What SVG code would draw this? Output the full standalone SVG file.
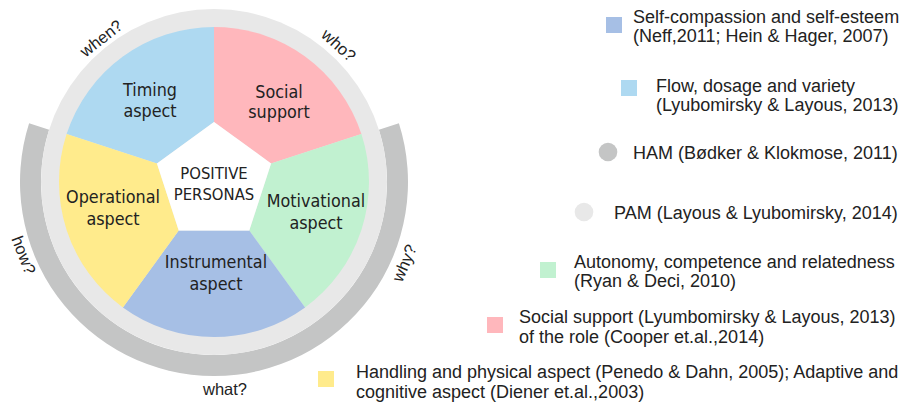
<svg xmlns="http://www.w3.org/2000/svg" width="901" height="405" viewBox="0 0 901 405">
<style>
.lbl{font-family:"DejaVu Sans Condensed","DejaVu Sans",sans-serif;font-stretch:condensed;font-size:17.8px;fill:#222;text-anchor:middle}
.ctr{font-size:16.5px}
.q{font-family:"Liberation Sans",Arial,sans-serif;font-size:16.5px;fill:#222;text-anchor:middle}
.leg{font-family:"Liberation Sans",Arial,sans-serif;font-size:18px;fill:#222}
</style>
<rect width="901" height="405" fill="#fff"/>
<g id="rings">
<path d="M29.1,123.3 A194,194 0 1 0 398.9,123.3 L378.9,129.7 A173,173 0 1 1 49.1,129.7 Z" fill="#c4c5c5"/>
<circle cx="214" cy="182" r="173" fill="#e8e8e8"/>
<text class="q" transform="translate(101,38) rotate(-38)" y="6">when?</text>
<text class="q" transform="translate(339,45) rotate(42)" y="6">who?</text>
<text class="q" transform="translate(24,255) rotate(69)" y="6">how?</text>
<text class="q" transform="translate(404,263) rotate(-67)" y="6">why?</text>
<text class="q" x="225" y="395">what?</text>
</g>
<g id="timing">
<path d="M214,122 L214,27 A155,155 0 0 0 66.59,134.10 L156.94,163.46 Z" fill="#aed9f1"/>
<text class="lbl" x="150" y="96">Timing</text>
<text class="lbl" x="150" y="117">aspect</text>
</g>
<g id="social">
<path d="M214,122 L214,27 A155,155 0 0 1 361.41,134.10 L271.06,163.46 Z" fill="#ffb7bc"/>
<text class="lbl" x="279" y="98">Social</text>
<text class="lbl" x="279" y="118">support</text>
</g>
<g id="motivational">
<path d="M271.06,163.46 L361.41,134.10 A155,155 0 0 1 305.11,307.40 L249.27,230.54 Z" fill="#c1f1d0"/>
<text class="lbl" x="316" y="207">Motivational</text>
<text class="lbl" x="316" y="229">aspect</text>
</g>
<g id="instrumental">
<path d="M249.27,230.54 L305.11,307.40 A155,155 0 0 1 122.89,307.40 L178.73,230.54 Z" fill="#a6bfe5"/>
<text class="lbl" x="216" y="268">Instrumental</text>
<text class="lbl" x="216" y="290">aspect</text>
</g>
<g id="operational">
<path d="M178.73,230.54 L122.89,307.40 A155,155 0 0 1 66.59,134.10 L156.94,163.46 Z" fill="#ffeb8c"/>
<text class="lbl" x="113" y="203">Operational</text>
<text class="lbl" x="113" y="225">aspect</text>
</g>
<g id="center">
<polygon points="214,122 271.06,163.46 249.27,230.54 178.73,230.54 156.94,163.46" fill="#fff"/>
<text class="lbl ctr" x="214" y="179">POSITIVE</text>
<text class="lbl ctr" x="214" y="200">PERSONAS</text>
</g>
<g id="connectors"/>
<g id="legend-selfcompassion">
<rect x="606" y="17" width="16" height="16" fill="#a6bfe5"/>
<text class="leg" x="633" y="23">Self-compassion and self-esteem</text>
<text class="leg" x="633" y="42">(Neff,2011; Hein &amp; Hager, 2007)</text>
</g>
<g id="legend-flow">
<rect x="621" y="80" width="16" height="16" fill="#aed9f1"/>
<text class="leg" x="656" y="91.5">Flow, dosage and variety</text>
<text class="leg" x="656" y="110.5">(Lyubomirsky &amp; Layous, 2013)</text>
</g>
<g id="legend-ham">
<circle cx="608" cy="152" r="9.3" fill="#c4c5c5"/>
<text class="leg" x="633" y="159">HAM (Bødker &amp; Klokmose, 2011)</text>
</g>
<g id="legend-pam">
<circle cx="584" cy="212" r="9.3" fill="#e8e8e8"/>
<text class="leg" x="614" y="219">PAM (Layous &amp; Lyubomirsky, 2014)</text>
</g>
<g id="legend-autonomy">
<rect x="540" y="262" width="16" height="16" fill="#c1f1d0"/>
<text class="leg" x="574" y="268">Autonomy, competence and relatedness</text>
<text class="leg" x="574" y="287">(Ryan &amp; Deci, 2010)</text>
</g>
<g id="legend-social">
<rect x="487" y="317" width="16" height="16" fill="#ffb7bc"/>
<text class="leg" x="519" y="323">Social support (Lyumbomirsky &amp; Layous, 2013)</text>
<text class="leg" x="519" y="342.5">of the role (Cooper et.al.,2014)</text>
</g>
<g id="legend-handling">
<rect x="318" y="371" width="16" height="16" fill="#ffeb8c"/>
<text class="leg" x="356" y="378">Handling and physical aspect (Penedo &amp; Dahn, 2005); Adaptive and</text>
<text class="leg" x="356" y="397.5">cognitive aspect (Diener et.al.,2003)</text>
</g>
</svg>
